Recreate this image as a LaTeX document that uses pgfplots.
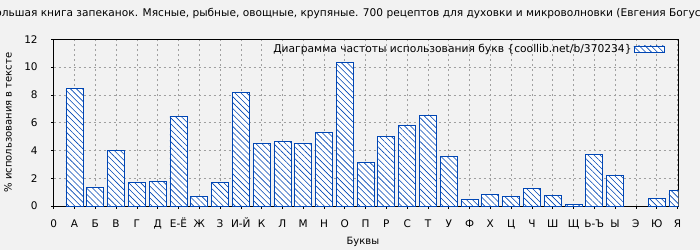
\documentclass[border=0pt]{standalone}
\usepackage{fontspec}
\setmainfont{DejaVu Sans}
\usepackage{pgfplots}
\pgfplotsset{compat=1.18}
\usetikzlibrary{patterns.meta}
\definecolor{bg}{HTML}{F2F2F2}
\definecolor{barblue}{RGB}{0,70,180}
\definecolor{gridgray}{HTML}{A0A0A0}
\pgfplotsset{hatchlegend/.style={legend image code/.code={\draw[##1] (12pt,-3pt) rectangle (42pt,3pt);}}}
\begin{document}
\begin{tikzpicture}[x=1pt,y=1pt]
\fill[bg] (0,0) rectangle (700,250);
\node[font=\fontsize{10.6}{12}\selectfont, anchor=center] at (350,237) {Самая большая книга запеканок. Мясные, рыбные, овощные, крупяные. 700 рецептов для духовки и микроволновки (Евгения Богуславская)};
\begin{axis}[
  at={(53.7pt,44pt)}, anchor=south west,
  scale only axis, width=624.6pt, height=166.7pt,
  xmin=0, xmax=30.04, ymin=0, ymax=12,
  xtick={0,...,30},
  xticklabels={0,А,Б,В,Г,Д,Е-Ё,Ж,З,И-Й,К,Л,М,Н,О,П,Р,С,Т,У,Ф,Х,Ц,Ч,Ш,Щ,Ь-Ъ,Ы,Э,Ю,Я},
  ytick={0,2,...,12},
  tick align=outside, major tick length=2.5pt,
  tick style={black, line width=0.6pt},
  xtick pos=bottom, ytick pos=left,
  grid=major,
  major grid style={gridgray, line width=0.6pt, dash pattern=on 2pt off 3pt},
  axis line style={black, line width=0.8pt},
  ticklabel style={font=\fontsize{10.5}{12}\selectfont},
  xticklabel style={anchor=north, text height=8pt, text depth=2pt, yshift=-7pt},
  yticklabel style={xshift=-10pt},
  /pgf/number format/assume math mode=true,
  xlabel={Буквы},
  ylabel={\% использования в тексте},
  label style={font=\fontsize{10.8}{12}\selectfont},
  every axis x label/.style={at={(axis description cs:0.495,-0.214)}, anchor=center},
  every axis y label/.style={at={(axis description cs:-0.0732,0.5)}, anchor=center, rotate=90},
  legend style={at={(axis description cs:0.978,0.985)}, anchor=north east, draw=none, fill=none,
    legend plot pos=right, font=\fontsize{10.7}{12}\selectfont, inner sep=0pt},
  hatchlegend,
  clip=true,
]
\addplot[ybar, bar width=17pt, draw=barblue, line width=0.8pt,
  preaction={fill=white},
  pattern={Lines[angle=-45,distance=4.2pt,line width=0.6pt]}, pattern color=barblue]
coordinates {
(1,8.47) (2,1.35) (3,4.0) (4,1.7) (5,1.78) (6,6.45) (7,0.7) (8,1.7) (9,8.18)
(10,4.51) (11,4.65) (12,4.51) (13,5.30) (14,10.34) (15,3.14) (16,5.01) (17,5.80)
(18,6.52) (19,3.57) (20,0.48) (21,0.84) (22,0.70) (23,1.27) (24,0.77) (25,0.12)
(26,3.72) (27,2.21) (29,0.55) (30,1.13)
};
\addlegendentry{Диаграмма частоты использования букв \{coollib.net/b/370234\}}
\end{axis}
\pgfresetboundingbox
\path[use as bounding box] (0,0) rectangle (700,250);
\end{tikzpicture}
\end{document}
